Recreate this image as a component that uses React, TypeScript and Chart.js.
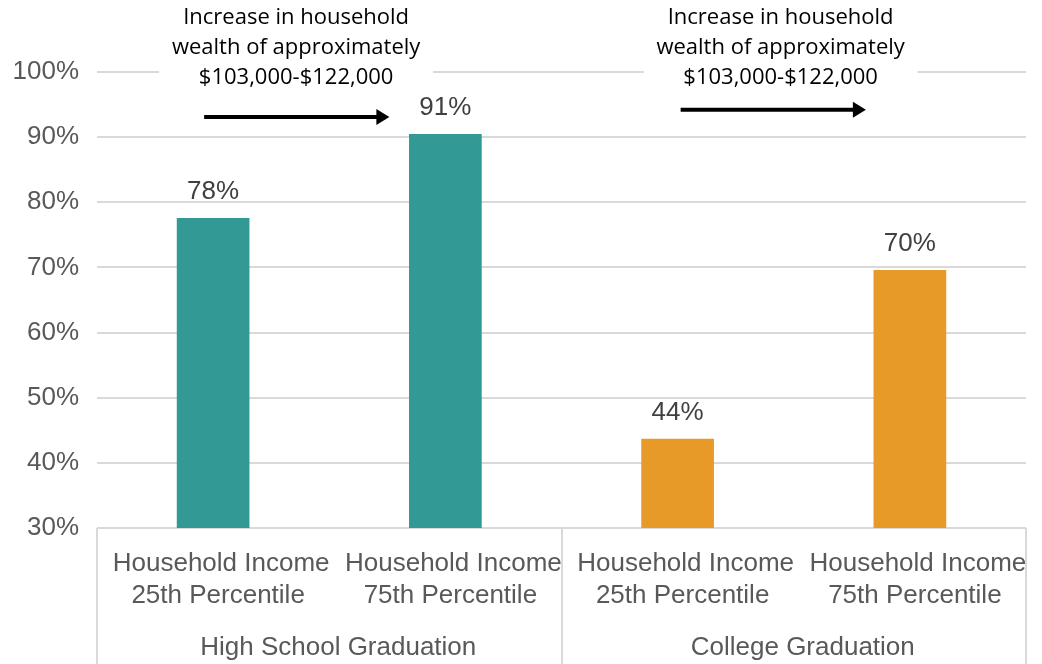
import React, { useEffect, useRef } from "react";
import { Chart, registerables } from "chart.js";

Chart.register(...registerables);

const categories: string[][] = [
  ["Household Income", "25th Percentile"],
  ["Household Income", "75th Percentile"],
  ["Household Income", "25th Percentile"],
  ["Household Income", "75th Percentile"],
];
const groups = ["High School Graduation", "College Graduation"];
const values = [77.6, 90.5, 43.7, 69.6];
const barColors = ["#339995", "#339995", "#E89A28", "#E89A28"];
const yTicks = [30, 40, 50, 60, 70, 80, 90, 100];
const annotationLines = ["Increase in household", "wealth of approximately", "$103,000-$122,000"];

const AXIS_FONT = '26px "Liberation Sans", Arial, sans-serif';
const NOTE_FONT = '22px "Open Sans", sans-serif';

const overlay = {
  id: "overlay",
  afterDraw(chart: any) {
    const { ctx, chartArea, scales } = chart;
    const x = scales.x;
    const y = scales.y;
    const H = chart.height;
    ctx.save();

    // category separators
    ctx.strokeStyle = "#d9d9d9";
    ctx.lineWidth = 2;
    const mid = (x.getPixelForValue(1) + x.getPixelForValue(2)) / 2;
    [chartArea.left, mid, chartArea.right].forEach((px: number) => {
      ctx.beginPath();
      ctx.moveTo(Math.round(px), chartArea.bottom);
      ctx.lineTo(Math.round(px), H);
      ctx.stroke();
    });

    // category tick labels
    ctx.fillStyle = "#595959";
    ctx.font = AXIS_FONT;
    ctx.textAlign = "center";
    ctx.textBaseline = "middle";
    const lineShift = [8, 5];
    categories.forEach((lines, i) => {
      const cx = x.getPixelForValue(i);
      lines.forEach((t, j) => ctx.fillText(t, cx + lineShift[j], chartArea.bottom + 36 + j * 32));
    });
    // group labels
    const gc = [
      (chartArea.left + mid) / 2 + 9,
      (mid + chartArea.right) / 2 + 9,
    ];
    groups.forEach((g, i) => ctx.fillText(g, gc[i], chartArea.bottom + 120));

    // data labels
    const meta = chart.getDatasetMeta(0);
    ctx.fillStyle = "#404040";
    ctx.textBaseline = "alphabetic";
    meta.data.forEach((bar: any, i: number) => {
      ctx.fillText(Math.round(values[i]) + "%", bar.x, bar.y - 19);
    });

    // annotations
    const notes = [
      { cx: x.getPixelForValue(0) + 83, a0: x.getPixelForValue(0) - 9, a1: x.getPixelForValue(1) - 56, ay: 93.1 },
      { cx: x.getPixelForValue(2) + 103, a0: x.getPixelForValue(2) + 3, a1: x.getPixelForValue(3) - 44, ay: 94.2 },
    ];
    notes.forEach((n) => {
      ctx.fillStyle = "#ffffff";
      ctx.fillRect(n.cx - 137, chartArea.top - 10, 274, 20);
      ctx.fillStyle = "#000000";
      ctx.font = NOTE_FONT;
      ctx.textBaseline = "middle";
      annotationLines.forEach((t, j) => ctx.fillText(t, n.cx, chartArea.top - 54 + j * 30));
      const ay = y.getPixelForValue(n.ay);
      ctx.strokeStyle = "#000000";
      ctx.lineWidth = 4;
      ctx.beginPath();
      ctx.moveTo(n.a0, ay);
      ctx.lineTo(n.a1 - 10, ay);
      ctx.stroke();
      ctx.beginPath();
      ctx.moveTo(n.a1, ay);
      ctx.lineTo(n.a1 - 13, ay - 8);
      ctx.lineTo(n.a1 - 13, ay + 8);
      ctx.closePath();
      ctx.fillStyle = "#000000";
      ctx.fill();
    });
    ctx.restore();
  },
};

export default function App() {
  const ref = useRef<HTMLCanvasElement | null>(null);
  useEffect(() => {
    document.body.style.margin = "0";
    const chart = new Chart(ref.current as HTMLCanvasElement, {
      type: "bar",
      data: {
        labels: categories.map((c) => c.join(" ")),
        datasets: [
          {
            data: values,
            backgroundColor: barColors,
            barPercentage: 0.313,
            categoryPercentage: 1,
          },
        ],
      },
      options: {
        responsive: false,
        animation: false,
        layout: { padding: { top: 72, right: 16, left: 0, bottom: 0 } },
        plugins: { legend: { display: false }, tooltip: { enabled: false } },
        scales: {
          x: {
            grid: { display: false },
            border: { display: false },
            ticks: { display: false },
            afterFit: (s: any) => {
              s.height = 136;
            },
          },
          y: {
            min: 30,
            max: 100,
            afterBuildTicks: (s: any) => {
              s.ticks = yTicks.map((v) => ({ value: v }));
            },
            grid: { color: "#d9d9d9", lineWidth: 2, drawTicks: false },
            border: { display: false },
            ticks: {
              padding: 18,
              color: "#595959",
              font: { family: '"Liberation Sans", Arial, sans-serif', size: 26 },
              callback: (v: any) => v + "%",
            },
            afterFit: (s: any) => {
              s.width = 97;
            },
          },
        },
      },
      plugins: [overlay],
    });
    return () => chart.destroy();
  }, []);
  return (
    <div style={{ width: 1042, height: 664, background: "#fff" }}>
      <canvas ref={ref} width={1042} height={664} />
    </div>
  );
}
